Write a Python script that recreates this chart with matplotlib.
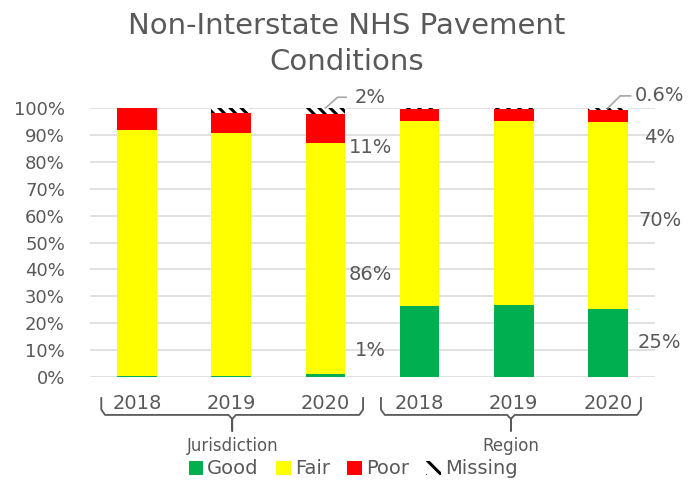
import matplotlib
matplotlib.use("Agg")
import matplotlib.pyplot as plt
from matplotlib.patches import Patch
from matplotlib.lines import Line2D
import numpy as np

years = ["2018", "2019", "2020", "2018", "2019", "2020"]
groups = ["Jurisdiction", "Region"]
good = [0.5, 0.3, 1.0, 26.4, 26.8, 25.3]
fair = [91.3, 90.4, 86.0, 68.8, 68.4, 69.6]
poor = [8.2, 7.4, 10.8, 4.4, 4.3, 4.5]
missing = [0.0, 1.9, 2.2, 0.4, 0.5, 0.6]

labels_j = ["2%", "11%", "86%", "1%"]
labels_r = ["0.6%", "4%", "70%", "25%"]

GRAY = "#595959"
plt.rcParams['font.family'] = ['DejaVu Sans']
plt.rcParams['hatch.linewidth'] = 2.2

fig = plt.figure(figsize=(6.94, 4.87), dpi=100)
ax = fig.add_axes([90/694, 1-377/487, (655-90)/694, (377-108)/487])

x = np.arange(len(years))
g = np.array(good) / 100
f = np.array(fair) / 100
p = np.array(poor) / 100
m = np.array(missing) / 100
w = 0.42
ax.bar(x, g, w, color="#00B050", zorder=3)
ax.bar(x, f, w, bottom=g, color="#FFFF00", zorder=3)
ax.bar(x, p, w, bottom=g + f, color="#FF0000", zorder=3)
ax.bar(x, m, w, bottom=g + f + p, color="white", edgecolor="black",
       hatch="\\\\\\", linewidth=0, zorder=3)

ax.set_xlim(-0.5, 5.5)
ax.set_ylim(0, 1)
ax.set_yticks(np.arange(0, 1.01, 0.1))
ax.set_yticklabels([f"{int(round(v*100))}%" for v in np.arange(0, 1.01, 0.1)])
ax.yaxis.grid(True, color="#D9D9D9", linewidth=1.1, zorder=0)
ax.set_axisbelow(True)
for s in ax.spines.values():
    s.set_visible(False)
ax.tick_params(axis="both", length=0, colors=GRAY, labelsize=13)
ax.tick_params(axis="y", pad=18)
ax.set_xticks(x)
ax.set_xticklabels(years, fontsize=14)
ax.tick_params(axis="x", pad=12)

# data labels for 2020 bars
def label_bar(i, xs, texts, ys, leader):
    for t, yy in zip(texts, ys):
        ax.text(xs, yy, t, ha="center", va="center", fontsize=14, color=GRAY, clip_on=False)
    top = g[i] + f[i] + p[i] + m[i]
    ax.add_line(Line2D([i, i + leader[0], i + leader[1]], [top, leader[2], leader[2]],
                       color="#A6A6A6", linewidth=1.2, clip_on=False, zorder=4))

label_bar(2, 2.48, labels_j, [1.04, 0.855, 0.38, 0.10], (0.13, 0.22, 1.04))
label_bar(5, 5.55, labels_r, [1.045, 0.89, 0.58, 0.13], (0.13, 0.24, 1.045))

# group brackets
trans = ax.get_xaxis_transform()
def bracket(x0, x1, name):
    xc = (x0 + x1) / 2
    yt, yh, yb = -0.078, -0.141, -0.20
    r = 0.04
    xs = [x0, x0, x0 + r, xc - r, xc, xc, xc, xc + r, x1 - r, x1, x1]
    ys = [yt, yh + 0.02, yh, yh, yh - 0.015, yb, yh - 0.015, yh, yh, yh + 0.02, yt]
    ax.add_line(Line2D(xs, ys, transform=trans, color=GRAY, linewidth=1.3, clip_on=False))
    ax.text(xc, -0.255, name, transform=trans, ha="center", va="center",
            fontsize=12, color=GRAY, clip_on=False)

bracket(-0.38, 2.40, groups[0])
bracket(2.59, 5.35, groups[1])

handles = [Patch(facecolor="#00B050", label="Good"),
           Patch(facecolor="#FFFF00", label="Fair"),
           Patch(facecolor="#FF0000", label="Poor"),
           Patch(facecolor="white", edgecolor="black", hatch="\\\\", linewidth=0, label="Missing")]
fig.legend(handles=handles, loc="center", bbox_to_anchor=(353/694, 1-469/487), ncol=4,
           frameon=False, fontsize=14, handlelength=0.75, handleheight=0.75,
           handletextpad=0.2, columnspacing=0.9, labelcolor=GRAY)

fig.text(0.5, 1-26/487, "Non-Interstate NHS Pavement", ha="center", va="center",
         fontsize=21, color=GRAY)
fig.text(0.5, 1-62/487, "Conditions", ha="center", va="center", fontsize=21, color=GRAY)

fig.savefig("out.png", dpi=100)
